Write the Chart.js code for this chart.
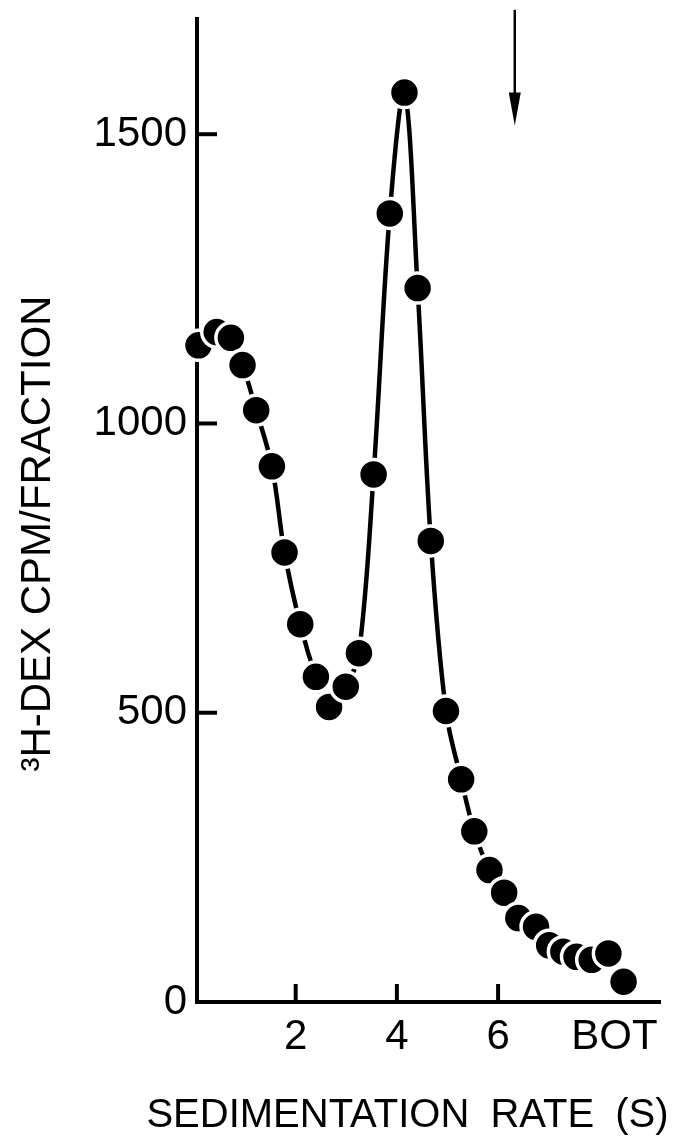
<!DOCTYPE html>
<html>
<head>
<meta charset="utf-8">
<script src="https://cdn.jsdelivr.net/npm/chart.js@4.4.1/dist/chart.umd.min.js"></script>
<style>
  html, body { margin: 0; padding: 0; background: #fff; }
  #wrap { width: 683px; height: 1142px; }
</style>
</head>
<body>
<div id="wrap"><canvas id="c" width="683" height="1142"></canvas></div>
<script>
// Gradient fractions: sedimentation rate (S) and 3H-dexamethasone counts per fraction
const sedimentation = [0.08, 0.44, 0.72, 0.95, 1.22, 1.53, 1.78, 2.09, 2.40, 2.66,
                       2.99, 3.25, 3.54, 3.86, 4.15, 4.41, 4.67, 4.97, 5.27, 5.53,
                       5.83, 6.12, 6.40, 6.75, 7.01, 7.29, 7.55, 7.85, 8.18, 8.48];
const cpm = [1135, 1158, 1148, 1101, 1023, 926, 777, 653, 562, 510,
             545, 603, 912, 1363, 1572, 1234, 797, 503, 385, 295,
             228, 189, 145, 130, 98, 87, 78, 73, 84, 35];

// Axis ticks
const xTickValues = [2, 4, 6, 8.3];
const xTickLabels = ['2', '4', '6', 'BOT'];
const xTickMarks = [2, 4, 6];
const yTickValues = [0, 500, 1000, 1500];
const yTickMarks = [500, 1000, 1500];

// Axis titles
const xTitle = 'SEDIMENTATION RATE (S)';
const yTitle = '\u00B3H-DEX CPM/FRACTION';

// Downward arrow marking the reference position
const arrowAt = 6.33;
const arrowFrom = 1715;
const arrowTo = 1515;

const FONT = "'Liberation Sans', Arial, sans-serif";

const decorations = {
  id: 'decorations',
  afterDraw(chart) {
    const { ctx, chartArea, scales: { x, y } } = chart;
    ctx.save();
    // inward tick marks
    ctx.strokeStyle = '#000';
    ctx.lineWidth = 4;
    ctx.lineCap = 'butt';
    const x0 = chartArea.left;
    const y0 = chartArea.bottom;
    yTickMarks.forEach(v => {
      const py = y.getPixelForValue(v);
      ctx.beginPath();
      ctx.moveTo(x0, py);
      ctx.lineTo(x0 + 20, py);
      ctx.stroke();
    });
    xTickMarks.forEach(v => {
      const px = x.getPixelForValue(v);
      ctx.beginPath();
      ctx.moveTo(px, y0);
      ctx.lineTo(px, y0 - 18);
      ctx.stroke();
    });

    // arrow
    const px = x.getPixelForValue(arrowAt);
    const top = y.getPixelForValue(arrowFrom);
    const tip = y.getPixelForValue(arrowTo);
    ctx.fillStyle = '#000';
    ctx.lineWidth = 2.5;
    ctx.beginPath();
    ctx.moveTo(px, top);
    ctx.lineTo(px, tip - 28);
    ctx.stroke();
    ctx.beginPath();
    ctx.moveTo(px - 6, tip - 33);
    ctx.lineTo(px + 6, tip - 33);
    ctx.lineTo(px, tip);
    ctx.closePath();
    ctx.fill();

    // x axis title, wider than the plot area
    ctx.font = '40px ' + FONT;
    ctx.wordSpacing = '10px';
    ctx.textAlign = 'center';
    ctx.textBaseline = 'middle';
    ctx.fillText(xTitle, (chartArea.left + chartArea.right) / 2 - 21, chartArea.bottom + 114);
    ctx.restore();
  }
};

new Chart(document.getElementById('c'), {
  type: 'line',
  data: {
    datasets: [{
      data: sedimentation.map((s, i) => ({ x: s, y: cpm[i] })),
      borderColor: '#000',
      borderWidth: 4.5,
      tension: 0.35,
      pointRadius: 15,
      pointBorderWidth: 3.5,
      pointBackgroundColor: '#000',
      pointBorderColor: '#fff',
      clip: false,
      fill: false
    }]
  },
  options: {
    responsive: false,
    animation: false,
    devicePixelRatio: 1,
    layout: { padding: { left: 0, top: 18, right: 23, bottom: 0 } },
    plugins: { legend: { display: false }, tooltip: { enabled: false } },
    scales: {
      x: {
        type: 'linear',
        min: 0.05,
        max: 9.2,
        afterFit: s => { s.height = 140; s.paddingLeft = 0; s.paddingRight = 0; },
        afterBuildTicks: s => { s.ticks = xTickValues.map(v => ({ value: v })); },
        grid: { display: false, drawTicks: false },
        border: { display: true, color: '#000', width: 4 },
        ticks: {
          autoSkip: false,
          maxRotation: 0,
          padding: 10,
          color: '#000',
          font: { family: FONT, size: 42 },
          callback: (v, i) => xTickLabels[i]
        },
        title: { display: false }
      },
      y: {
        type: 'linear',
        min: 0,
        max: 1700,
        afterFit: s => { s.width = 197; s.paddingTop = 0; s.paddingBottom = 0; },
        afterBuildTicks: s => { s.ticks = yTickValues.map(v => ({ value: v })); },
        grid: { display: false, drawTicks: false },
        border: { display: true, color: '#000', width: 4 },
        ticks: {
          padding: 10,
          color: '#000',
          font: { family: FONT, size: 42 },
          callback: v => String(v)
        },
        title: {
          display: true,
          text: yTitle + '    ',
          color: '#000',
          font: { family: FONT, size: 42 },
          padding: { top: 13, bottom: 0 }
        }
      }
    }
  },
  plugins: [decorations]
});
</script>
</body>
</html>
